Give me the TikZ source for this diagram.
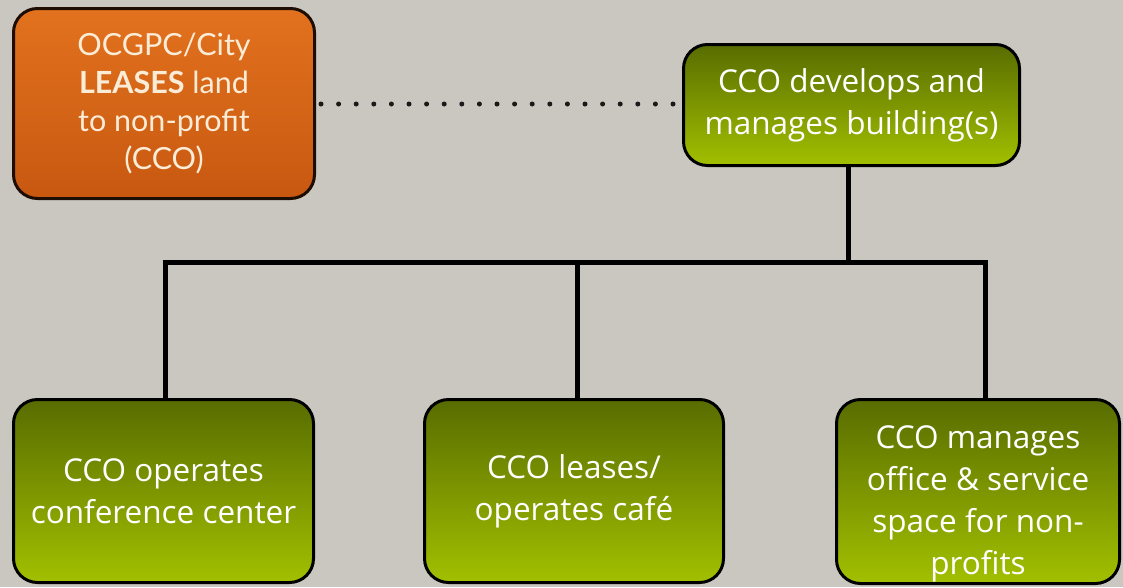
\documentclass[tikz,border=0pt]{standalone}
\usepackage{fontspec}
\setmainfont{Open Sans}
\newfontfamily\gillfont{Lato}
\definecolor{bggray}{RGB}{202,198,192}
\definecolor{greentop}{RGB}{88,108,0}
\definecolor{greenbot}{RGB}{162,192,0}
\definecolor{orangetop}{RGB}{226,114,30}
\definecolor{orangebot}{RGB}{200,88,16}
\definecolor{cream}{RGB}{250,236,215}
\begin{document}
\begin{tikzpicture}[x=1pt,y=-1pt,
  greenbox/.style={draw=black, line width=3pt, rounded corners=24pt,
    top color=greentop, bottom color=greenbot, text=white, align=center,
    inner sep=0pt, font=\fontsize{31.5}{42}\selectfont},
  orangebox/.style={draw=black!85!orangebot, line width=3pt, rounded corners=24pt,
    top color=orangetop, bottom color=orangebot, text=cream, align=center,
    inner sep=0pt, font=\gillfont\fontsize{30.5}{38}\selectfont},
  connector/.style={line width=5pt, draw=black},
  dotline/.style={line width=5pt, draw=black!90, line cap=round, dash pattern=on 0pt off 17.6pt}]
\fill[bggray] (0,0) rectangle (1123,587);
\useasboundingbox (0,0) rectangle (1123,587);

\node[orangebox, minimum width=301pt, minimum height=190pt] (lease) at (164,103.5)
  {OCGPC/City\\ \textbf{LEASES} land\\ to non-profit\\ (CCO)};
\node[greenbox, minimum width=336pt, minimum height=121pt] (dev) at (851.5,105)
  {CCO develops and\\ manages building(s)};
\node[greenbox, minimum width=300pt, minimum height=183pt] (conf) at (163.5,491)
  {CCO operates\\ conference center};
\node[greenbox, minimum width=299pt, minimum height=183pt] (cafe) at (574,491)
  {CCO leases/\\ operates café};
\node[greenbox, minimum width=283pt, minimum height=184pt] (office) at (978,491.5)
  {\rule{0pt}{47pt}CCO manages\\ office \& service\\ space for non-\\ profits};

\coordinate (bus) at (848,262);
\coordinate (b1) at (165,262);
\coordinate (b2) at (577,262);
\coordinate (b3) at (985,262);

\draw[dotline] (lease.east |- 0,104) ++(5,0) coordinate (d0) -- (dev.west |- d0);
\draw[connector] (dev.south -| bus) -- (bus);
\draw[connector] ([xshift=-2.5pt]b1) -- ([xshift=2.5pt]b3);
\draw[connector] (b1) -- (b1 |- conf.north);
\draw[connector] (b2) -- (b2 |- cafe.north);
\draw[connector] (b3) -- (b3 |- office.north);
\end{tikzpicture}
\end{document}
